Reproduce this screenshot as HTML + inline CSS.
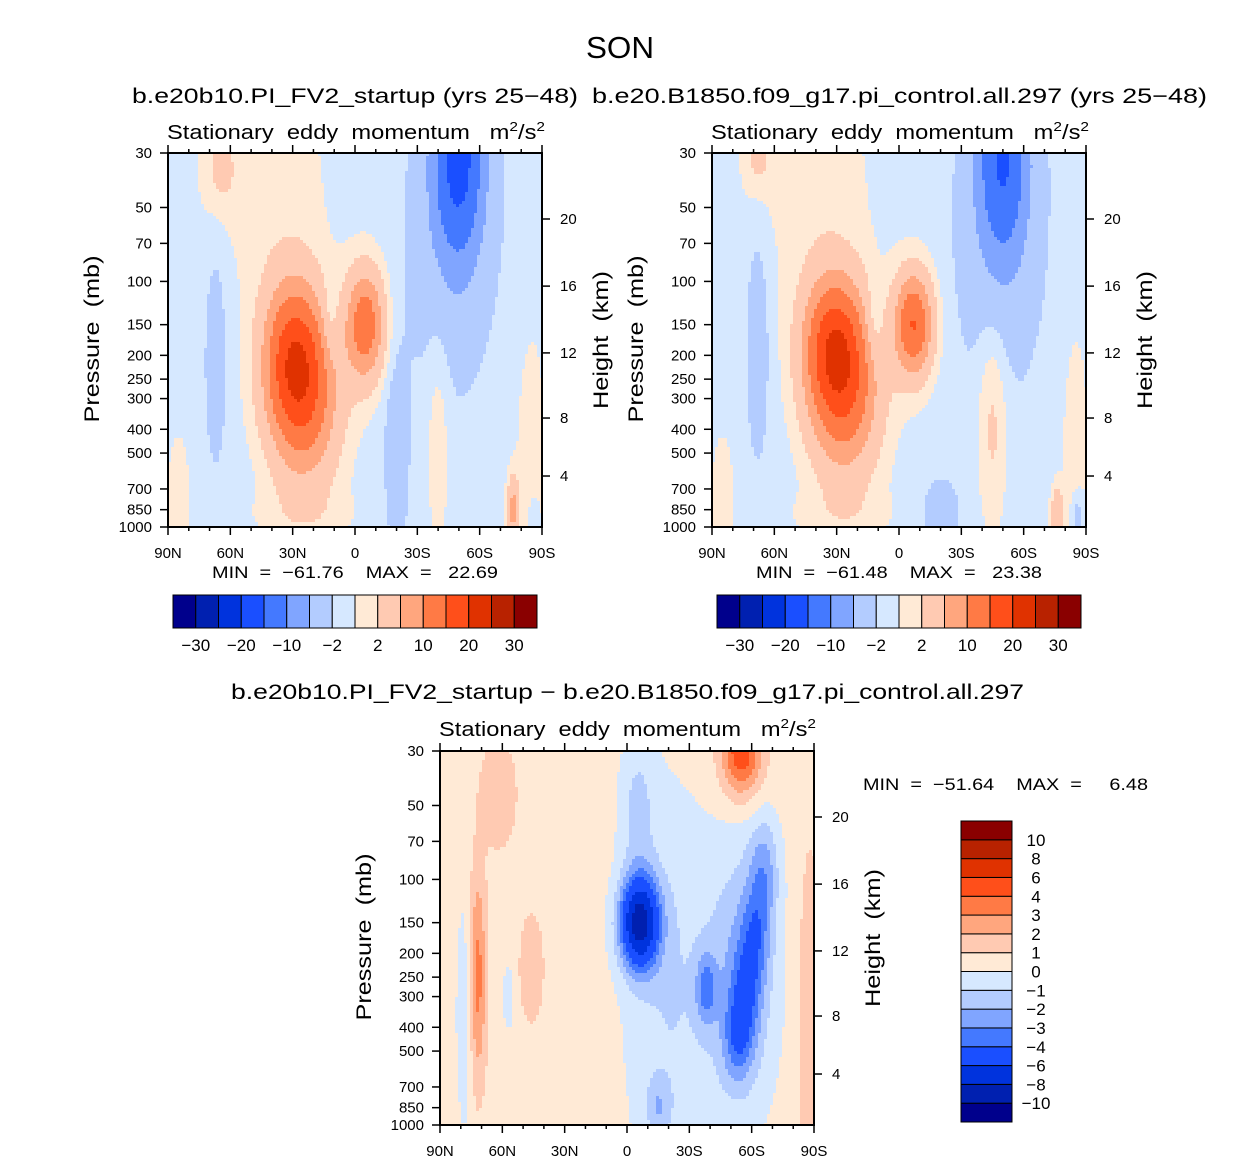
<!DOCTYPE html>
<html><head><meta charset="utf-8">
<style>
html,body{margin:0;padding:0;background:#fff;}
svg{display:block;font-family:"Liberation Sans",sans-serif;}
text{white-space:pre;fill:#000;}
</style></head>
<body>
<svg id="root" width="1258" height="1161" viewBox="0 0 1258 1161" xmlns="http://www.w3.org/2000/svg">
<rect width="1258" height="1161" fill="#fff"/>
<text x="586" y="58" font-size="31" textLength="68" lengthAdjust="spacingAndGlyphs">SON</text>

<text x="132" y="103" font-size="21" textLength="446" lengthAdjust="spacingAndGlyphs">b.e20b10.PI_FV2_startup (yrs 25−48)</text>
<text x="167" y="139" font-size="20" textLength="378" lengthAdjust="spacingAndGlyphs">Stationary  eddy  momentum   m<tspan font-size="13" dy="-8">2</tspan><tspan dy="8">/s</tspan><tspan font-size="13" dy="-8">2</tspan></text>
<text x="212" y="578" font-size="17" textLength="286" lengthAdjust="spacingAndGlyphs">MIN  =  −61.76    MAX  =   22.69</text>

<text x="592" y="103" font-size="21" textLength="615" lengthAdjust="spacingAndGlyphs">b.e20.B1850.f09_g17.pi_control.all.297 (yrs 25−48)</text>
<text x="711" y="139" font-size="20" textLength="378" lengthAdjust="spacingAndGlyphs">Stationary  eddy  momentum   m<tspan font-size="13" dy="-8">2</tspan><tspan dy="8">/s</tspan><tspan font-size="13" dy="-8">2</tspan></text>
<text x="756" y="578" font-size="17" textLength="286" lengthAdjust="spacingAndGlyphs">MIN  =  −61.48    MAX  =   23.38</text>

<text x="231" y="699" font-size="21" textLength="793" lengthAdjust="spacingAndGlyphs">b.e20b10.PI_FV2_startup − b.e20.B1850.f09_g17.pi_control.all.297</text>
<text x="439" y="736" font-size="20" textLength="377" lengthAdjust="spacingAndGlyphs">Stationary  eddy  momentum   m<tspan font-size="13" dy="-8">2</tspan><tspan dy="8">/s</tspan><tspan font-size="13" dy="-8">2</tspan></text>
<text x="863" y="790" font-size="17" textLength="285" lengthAdjust="spacingAndGlyphs">MIN  =  −51.64    MAX  =     6.48</text>
</svg>
<script>
const NS='http://www.w3.org/2000/svg';
const root=document.getElementById('root');
const colors=['#00008c','#0020b0','#0033dd','#1a4fff','#4479ff','#80a5ff','#b3ccff','#d6e8ff','#ffead6','#ffcab2','#ffa67e','#ff7a45','#ff4f1a','#e03200','#b82200','#8a0000'];
const levelsAbs=[-30,-25,-20,-15,-10,-6,-2,0,2,6,10,15,20,25,30];
const levelsDiff=[-10,-8,-6,-4,-3,-2,-1,0,1,2,3,4,6,8,10];
const cbLabelsAbs=['−30','−20','−10','−2','2','10','20','30'];
const cbLabelsDiff=['−10','−8','−6','−4','−3','−2','−1','0','1','2','3','4','6','8','10'];
const pTicks=[30,50,70,100,150,200,250,300,400,500,700,850,1000];
const latTicks=[90,60,30,0,-30,-60,-90];
const latTickLabels=['90N','60N','30N','0','30S','60S','90S'];
const kmTicks=[20,16,12,8,4];
const kmPressure=[55.7,104.5,195.5,360,620];
// blobs: lat, pressure(mb), amplitude, lat-width(deg), log10p-width
const base1=-1;
const blobLat1=[30,24,-5,12,67,-50,-45,-20,-40,-85,-76,40,65,85,25,-86];
const blobP1=[200,300,150,150,200,30,80,500,400,600,850,40,35,800,900,950];
const blobAmp1=[14,12,14,-3,-3,-15,-3,-3,2.5,2.5,8,2,3,1.8,1.5,-3];
const blobWl1=[10,12,6.5,3,3.5,9,14,4,4,5,2,20,6,5,20,2];
const blobWp1=[0.22,0.25,0.16,0.12,0.3,0.3,0.4,0.3,0.35,0.4,0.1,0.35,0.12,0.25,0.08,0.08];
const base2=-1;
const blobLat2=[32,26,-7,12,68,-50,-48,-45,-85,-76,40,68,85,28,-20,-86];
const blobP2=[180,280,150,150,180,30,80,350,500,900,40,32,800,900,900,950];
const blobAmp2=[14,13,16,-3,-3.5,-13,-3,4,2,7,2,3,1.8,1.5,-3,-4];
const blobWl2=[10,12,6.5,3,3.5,9,14,5,5,2,20,5,5,20,6,2];
const blobWp2=[0.2,0.25,0.15,0.12,0.3,0.3,0.4,0.3,0.4,0.08,0.35,0.1,0.25,0.08,0.1,0.08];
const base3=0.5;
const blobLat3=[62,72,46,78,57,-6,-20,-55,-66,-62,-57,-53,-38,-55,-88,-5,-15];
const blobP3=[45,250,230,350,300,150,300,250,90,170,300,450,280,30,400,50,850];
const blobAmp3=[1.5,3,1.5,-1.3,-1.2,-9,-1.5,-2.4,-2.3,-2.4,-2.4,-2.3,-2.8,4.5,1.5,-1.5,-1.6];
const blobWl3=[6,3,4,3,2,6.5,15,12,5,5,5,5,3.5,7,4,6,4];
const blobWp3=[0.15,0.3,0.15,0.35,0.1,0.13,0.6,0.4,0.15,0.15,0.15,0.12,0.1,0.13,0.5,0.2,0.08];

function el(tag,attrs,parent){const e=document.createElementNS(NS,tag);for(const k in attrs)e.setAttribute(k,attrs[k]);(parent||root).appendChild(e);return e;}
const LP0=Math.log10(30),LP1=Math.log10(1000);

function panel(id,X0,Y0,base,bl,bp,ba,bwl,bwp,levels){
  const W=374,H=374;
  const xOf=lat=>X0+(90-lat)/180*W;
  const yOf=p=>Y0+(Math.log10(p)-LP0)/(LP1-LP0)*H;
  const latOf=x=>90-(x-X0)/W*180;
  const lpOf=y=>LP0+(y-Y0)/H*(LP1-LP0);
  const g=el('g',{},root);
  
  
  const cs=3;
  const nx=Math.ceil(W/cs),ny=Math.ceil(H/cs);
  for(let j=0;j<ny;j++){
    const y=Y0+j*cs;
    const lp=lpOf(y+cs/2);
    let runStart=0,runC=null;
    for(let i=0;i<=nx;i++){
      let c=null;
      if(i<nx){
        const lat=latOf(X0+i*cs+cs/2);
        let v=base;
        for(let b=0;b<bl.length;b++){
          const dl=(lat-bl[b])/bwl[b],dp=(lp-Math.log10(bp[b]))/bwp[b];
          v+=ba[b]*Math.exp(-0.5*(dl*dl+dp*dp));
        }
        let k=0;while(k<levels.length&&v>=levels[k])k++;
        c=colors[k];
      }
      if(c!==runC){
        if(runC!==null){
          const xs=X0+runStart*cs,xe=Math.min(X0+i*cs,X0+W);
          const r=el('rect',{x:xs,y:y,width:xe-xs+0.3,height:Math.min(cs,Y0+H-y)+0.3,fill:runC,'shape-rendering':'crispEdges'},g);
          
          
        }
        runStart=i;runC=c;
      }
    }
  }
  const f=el('rect',{x:X0,y:Y0,width:W,height:H,fill:'none',stroke:'#000','stroke-width':2});
  
  
  const ax=el('g',{stroke:'#000','stroke-width':1.5});
  
  
  pTicks.forEach(p=>{
    const y=yOf(p);
    el('line',{x1:X0-8,x2:X0,y1:y,y2:y},ax);
    const t=el('text',{x:X0-16,y:y+5,'font-size':15,'text-anchor':'end',stroke:'none'},ax);
    
    
    t.textContent=p;
  });
  for(let lat=90;lat>=-90;lat-=10){
    const x=xOf(lat),len=(lat%30===0)?8:4;
    el('line',{x1:x,x2:x,y1:Y0-len,y2:Y0},ax);
    el('line',{x1:x,x2:x,y1:Y0+H,y2:Y0+H+len},ax);
  }
  latTicks.forEach((lat,i)=>{
    const t=el('text',{x:xOf(lat),y:Y0+H+31,'font-size':15,'text-anchor':'middle',stroke:'none'},ax);
    
    
    t.textContent=latTickLabels[i];
  });
  kmTicks.forEach((km,i)=>{
    const y=yOf(kmPressure[i]);
    el('line',{x1:X0+W,x2:X0+W+8,y1:y,y2:y},ax);
    const t=el('text',{x:X0+W+18,y:y+5,'font-size':15,stroke:'none'},ax);
    
    
    t.textContent=km;
  });
  const yl=el('text',{x:0,y:0,'font-size':21,'text-anchor':'middle',textLength:167,lengthAdjust:'spacingAndGlyphs',transform:`translate(${X0-69},${Y0+H/2-1}) rotate(-90)`});
  
  
  yl.textContent='Pressure  (mb)';
  const yr=el('text',{x:0,y:0,'font-size':21,'text-anchor':'middle',textLength:138,lengthAdjust:'spacingAndGlyphs',transform:`translate(${X0+W+66},${Y0+H/2}) rotate(-90)`});
  
  
  yr.textContent='Height  (km)';
}
function hbar(id,X0,Y0){
  const W=364,H=33,n=colors.length,bw=W/n;
  const g=el('g',{});
  
  
  colors.forEach((c,i)=>{
    const r=el('rect',{x:X0+i*bw,y:Y0,width:bw,height:H,fill:c,stroke:'#000','stroke-width':1},g);
    
    
  });
  cbLabelsAbs.forEach((l,i)=>{
    const t=el('text',{x:X0+(2*i+1)*bw,y:Y0+H+23,'font-size':17,'text-anchor':'middle'},g);
    
    
    t.textContent=l;
  });
}
function vbar(id,X0,Y0){
  const W=51,H=301,n=colors.length,bh=H/n;
  const g=el('g',{});
  
  
  colors.forEach((c,i)=>{
    const r=el('rect',{x:X0,y:Y0+(n-1-i)*bh,width:W,height:bh,fill:c,stroke:'#000','stroke-width':1},g);
    
    
  });
  cbLabelsDiff.forEach((l,i)=>{
    const t=el('text',{x:X0+W+24,y:Y0+(n-1-i)*bh+6,'font-size':17,'text-anchor':'middle'},g);
    
    
    t.textContent=l;
  });
}
panel('panel1',168,153,base1,blobLat1,blobP1,blobAmp1,blobWl1,blobWp1,levelsAbs);
panel('panel2',712,153,base2,blobLat2,blobP2,blobAmp2,blobWl2,blobWp2,levelsAbs);
panel('panel3',440,751,base3,blobLat3,blobP3,blobAmp3,blobWl3,blobWp3,levelsDiff);
hbar('panel1',173,595);
hbar('panel2',717,595);
vbar('panel3',961,821);
</script>
</body></html>
